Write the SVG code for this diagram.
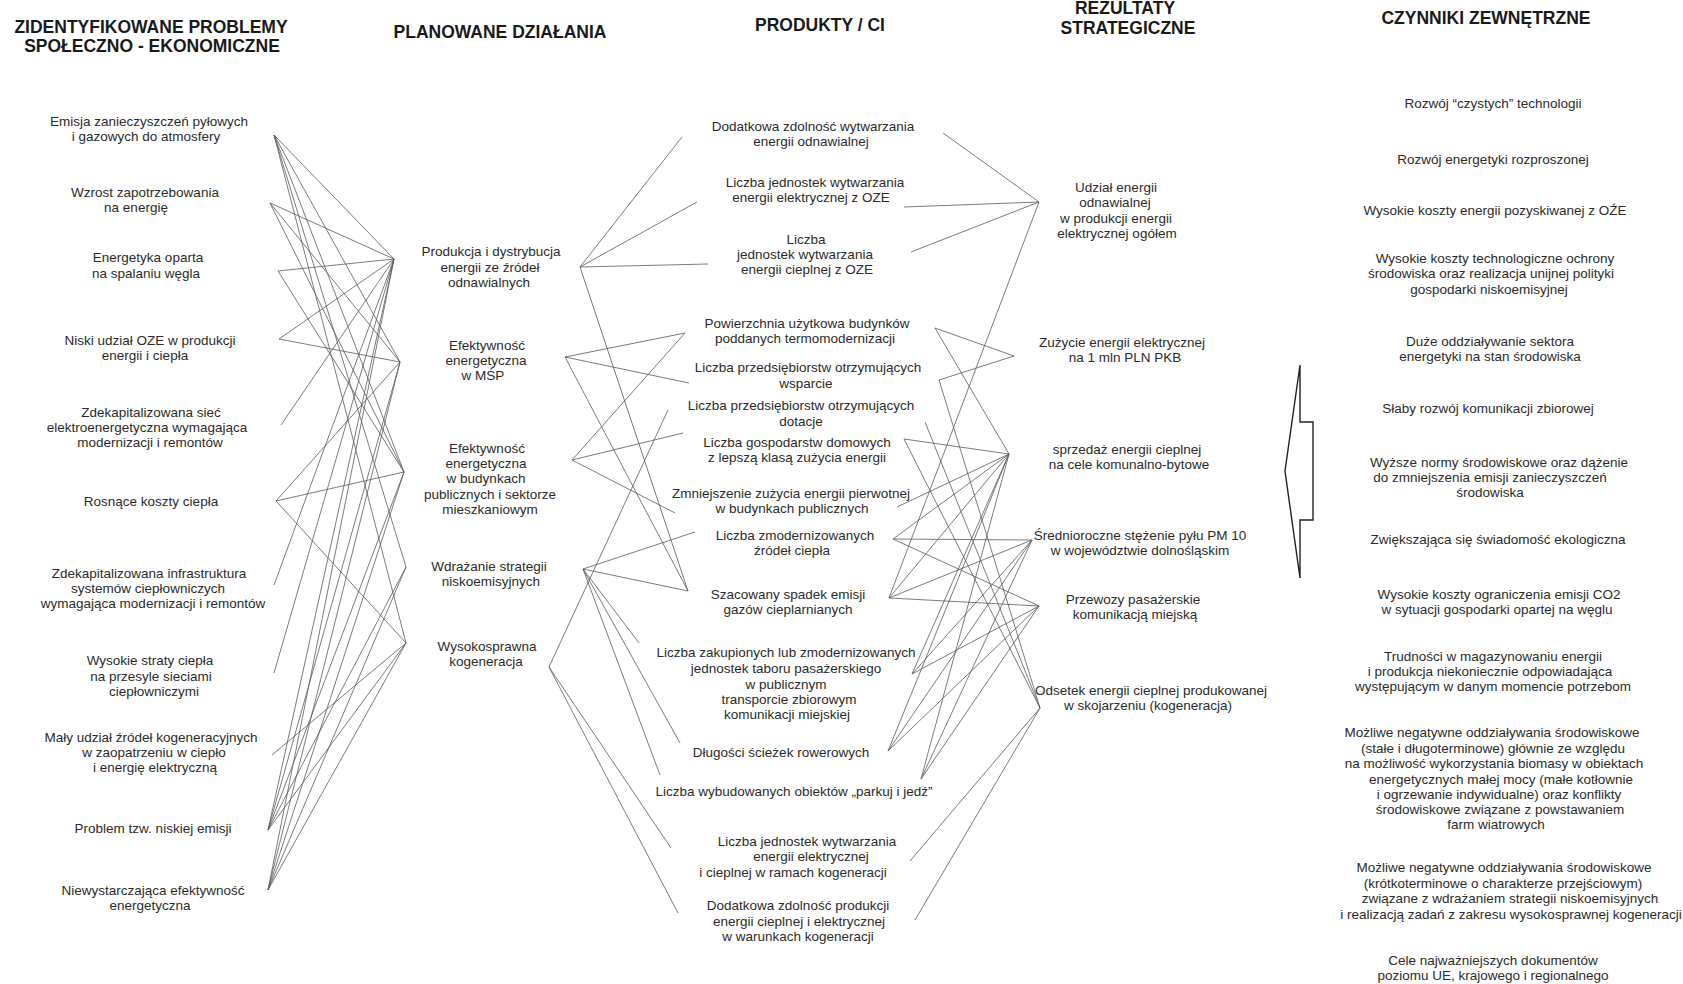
<svg xmlns="http://www.w3.org/2000/svg" width="1683" height="984" viewBox="0 0 1683 984">
  <style>
    text { font-family: "Liberation Sans", Arial, sans-serif; font-size: 13.5px; fill: #2b2b2b; text-anchor: middle; }
    text.h { font-weight: bold; font-size: 17.5px; fill: #1a1a1a; }
    #connectors line { stroke: #5a5a5a; stroke-width: 0.8; fill: none; }
    .bracket { fill: #fff; stroke: #222; stroke-width: 1.4; stroke-linejoin: miter; }
  </style>
  <rect width="1683" height="984" fill="#fff"/>

  <!-- column headers -->
  <g id="headers">
    <text class="h" x="151" y="33">ZIDENTYFIKOWANE PROBLEMY</text>
    <text class="h" x="152" y="52">SPOŁECZNO - EKONOMICZNE</text>
    <text class="h" x="500" y="38">PLANOWANE DZIAŁANIA</text>
    <text class="h" x="820" y="31">PRODUKTY / CI</text>
    <text class="h" x="1125" y="14">REZULTATY</text>
    <text class="h" x="1128" y="34">STRATEGICZNE</text>
    <text class="h" x="1486" y="24">CZYNNIKI ZEWNĘTRZNE</text>
  </g>

  <!-- connectors -->
  <g id="connectors">
    <!-- problems -> planned actions -->
    <line x1="274" y1="135" x2="394" y2="259"/>
    <line x1="274" y1="135" x2="400" y2="362"/>
    <line x1="274" y1="135" x2="404" y2="472"/>
    <line x1="274" y1="135" x2="406" y2="567"/>
    <line x1="274" y1="135" x2="406" y2="643"/>
    <line x1="270" y1="203" x2="394" y2="259"/>
    <line x1="270" y1="203" x2="400" y2="362"/>
    <line x1="270" y1="203" x2="404" y2="472"/>
    <line x1="278" y1="271" x2="394" y2="259"/>
    <line x1="278" y1="271" x2="404" y2="472"/>
    <line x1="279" y1="339" x2="394" y2="259"/>
    <line x1="279" y1="339" x2="400" y2="362"/>
    <line x1="281" y1="425" x2="394" y2="259"/>
    <line x1="276" y1="501" x2="400" y2="362"/>
    <line x1="276" y1="501" x2="404" y2="472"/>
    <line x1="276" y1="501" x2="406" y2="643"/>
    <line x1="274" y1="585" x2="394" y2="259"/>
    <line x1="274" y1="673" x2="394" y2="259"/>
    <line x1="272" y1="755" x2="406" y2="643"/>
    <line x1="268" y1="830" x2="394" y2="259"/>
    <line x1="268" y1="830" x2="400" y2="362"/>
    <line x1="268" y1="830" x2="404" y2="472"/>
    <line x1="268" y1="830" x2="406" y2="567"/>
    <line x1="268" y1="830" x2="406" y2="643"/>
    <line x1="268" y1="890" x2="394" y2="259"/>
    <line x1="268" y1="890" x2="400" y2="362"/>
    <line x1="268" y1="890" x2="404" y2="472"/>
    <line x1="268" y1="890" x2="406" y2="567"/>
    <line x1="268" y1="890" x2="406" y2="643"/>

    <!-- planned actions -> products -->
    <line x1="580" y1="267" x2="682" y2="137"/>
    <line x1="580" y1="267" x2="697" y2="202"/>
    <line x1="580" y1="267" x2="708" y2="264"/>
    <line x1="580" y1="267" x2="688" y2="591"/>
    <line x1="565" y1="357" x2="685" y2="333"/>
    <line x1="565" y1="357" x2="689" y2="383"/>
    <line x1="565" y1="357" x2="688" y2="591"/>
    <line x1="572" y1="460" x2="685" y2="333"/>
    <line x1="572" y1="460" x2="683" y2="433"/>
    <line x1="572" y1="460" x2="675" y2="513"/>
    <line x1="583" y1="569" x2="695" y2="532"/>
    <line x1="583" y1="569" x2="688" y2="591"/>
    <line x1="583" y1="569" x2="639" y2="643"/>
    <line x1="583" y1="569" x2="680" y2="743"/>
    <line x1="583" y1="569" x2="660" y2="775"/>
    <line x1="549" y1="667" x2="668" y2="410"/>
    <line x1="549" y1="667" x2="671" y2="848"/>
    <line x1="549" y1="667" x2="678" y2="913"/>

    <!-- products -> strategic results -->
    <line x1="943" y1="133" x2="1039" y2="202"/>
    <line x1="904" y1="207" x2="1039" y2="202"/>
    <line x1="911" y1="252" x2="1039" y2="202"/>
    <line x1="889" y1="598" x2="1039" y2="202"/>
    <line x1="935" y1="328" x2="1014" y2="356"/>
    <line x1="939" y1="380" x2="1014" y2="356"/>
    <line x1="935" y1="328" x2="1009" y2="454"/>
    <line x1="904" y1="439" x2="1009" y2="454"/>
    <line x1="897" y1="507" x2="1009" y2="454"/>
    <line x1="893" y1="539" x2="1009" y2="454"/>
    <line x1="889" y1="598" x2="1009" y2="454"/>
    <line x1="912" y1="674" x2="1009" y2="454"/>
    <line x1="888" y1="751" x2="1009" y2="454"/>
    <line x1="921" y1="779" x2="1009" y2="454"/>
    <line x1="893" y1="539" x2="1032" y2="540"/>
    <line x1="889" y1="598" x2="1032" y2="540"/>
    <line x1="912" y1="674" x2="1032" y2="540"/>
    <line x1="888" y1="751" x2="1032" y2="540"/>
    <line x1="921" y1="779" x2="1032" y2="540"/>
    <line x1="893" y1="539" x2="1039" y2="606"/>
    <line x1="889" y1="598" x2="1039" y2="606"/>
    <line x1="912" y1="674" x2="1039" y2="606"/>
    <line x1="888" y1="751" x2="1039" y2="606"/>
    <line x1="921" y1="779" x2="1039" y2="606"/>
    <line x1="939" y1="380" x2="1040" y2="708"/>
    <line x1="925" y1="422" x2="1040" y2="708"/>
    <line x1="904" y1="439" x2="1040" y2="708"/>
    <line x1="910" y1="861" x2="1040" y2="708"/>
    <line x1="915" y1="920" x2="1040" y2="708"/>
  </g>

  <!-- identified problems -->
  <g id="problem-emisja"><text x="149" y="126">Emisja zanieczyszczeń pyłowych</text><text x="146" y="141">i gazowych do atmosfery</text></g>
  <g id="problem-zapotrzebowanie"><text x="145" y="197">Wzrost zapotrzebowania</text><text x="136" y="212">na energię</text></g>
  <g id="problem-wegiel"><text x="148" y="262">Energetyka oparta</text><text x="146" y="278">na spalaniu węgla</text></g>
  <g id="problem-oze"><text x="150" y="345">Niski udział OZE w produkcji</text><text x="145" y="360">energii i ciepła</text></g>
  <g id="problem-siec"><text x="151" y="417">Zdekapitalizowana sieć</text><text x="147" y="432">elektroenergetyczna wymagająca</text><text x="150" y="447">modernizacji i remontów</text></g>
  <g id="problem-koszty"><text x="151" y="506">Rosnące koszty ciepła</text></g>
  <g id="problem-infrastruktura"><text x="149" y="578">Zdekapitalizowana infrastruktura</text><text x="148" y="593">systemów ciepłowniczych</text><text x="153" y="608">wymagająca modernizacji i remontów</text></g>
  <g id="problem-straty"><text x="150" y="665">Wysokie straty ciepła</text><text x="151" y="681">na przesyle sieciami</text><text x="154" y="696">ciepłowniczymi</text></g>
  <g id="problem-kogeneracja"><text x="151" y="742">Mały udział źródeł kogeneracyjnych</text><text x="154" y="757">w zaopatrzeniu w ciepło</text><text x="155" y="772">i energię elektryczną</text></g>
  <g id="problem-niska-emisja"><text x="153" y="833">Problem tzw. niskiej emisji</text></g>
  <g id="problem-efektywnosc"><text x="153" y="895">Niewystarczająca efektywność</text><text x="150" y="910">energetyczna</text></g>

  <!-- planned actions -->
  <g id="action-oze"><text x="491" y="256">Produkcja i dystrybucja</text><text x="490" y="272">energii ze źródeł</text><text x="489" y="287">odnawialnych</text></g>
  <g id="action-msp"><text x="487" y="350">Efektywność</text><text x="486" y="365">energetyczna</text><text x="483" y="380">w MŚP</text></g>
  <g id="action-budynki"><text x="487" y="453">Efektywność</text><text x="486" y="468">energetyczna</text><text x="486" y="483">w budynkach</text><text x="490" y="499">publicznych i sektorze</text><text x="490" y="514">mieszkaniowym</text></g>
  <g id="action-niskoemisyjne"><text x="489" y="571">Wdrażanie strategii</text><text x="491" y="586">niskoemisyjnych</text></g>
  <g id="action-kogeneracja"><text x="487" y="651">Wysokosprawna</text><text x="486" y="666">kogeneracja</text></g>

  <!-- products -->
  <g id="product-1"><text x="813" y="131">Dodatkowa zdolność wytwarzania</text><text x="811" y="146">energii odnawialnej</text></g>
  <g id="product-2"><text x="815" y="187">Liczba jednostek wytwarzania</text><text x="811" y="202">energii elektrycznej z OZE</text></g>
  <g id="product-3"><text x="806" y="244">Liczba</text><text x="805" y="259">jednostek wytwarzania</text><text x="807" y="274">energii cieplnej z OZE</text></g>
  <g id="product-4"><text x="807" y="328">Powierzchnia użytkowa budynków</text><text x="805" y="343">poddanych termomodernizacji</text></g>
  <g id="product-5"><text x="808" y="372">Liczba przedsiębiorstw otrzymujących</text><text x="806" y="388">wsparcie</text></g>
  <g id="product-6"><text x="801" y="410">Liczba przedsiębiorstw otrzymujących</text><text x="801" y="426">dotacje</text></g>
  <g id="product-7"><text x="797" y="447">Liczba gospodarstw domowych</text><text x="797" y="462">z lepszą klasą zużycia energii</text></g>
  <g id="product-8"><text x="791" y="498">Zmniejszenie zużycia energii pierwotnej</text><text x="792" y="513">w budynkach publicznych</text></g>
  <g id="product-9"><text x="795" y="540">Liczba zmodernizowanych</text><text x="792" y="555">źródeł ciepła</text></g>
  <g id="product-10"><text x="788" y="599">Szacowany spadek emisji</text><text x="788" y="614">gazów cieplarnianych</text></g>
  <g id="product-11"><text x="786" y="657">Liczba zakupionych lub zmodernizowanych</text><text x="786" y="673">jednostek taboru pasażerskiego</text><text x="786" y="689">w publicznym</text><text x="789" y="704">transporcie zbiorowym</text><text x="787" y="719">komunikacji miejskiej</text></g>
  <g id="product-12"><text x="781" y="757">Długości ścieżek rowerowych</text></g>
  <g id="product-13"><text x="794" y="796">Liczba wybudowanych obiektów „parkuj i jedź”</text></g>
  <g id="product-14"><text x="807" y="846">Liczba jednostek wytwarzania</text><text x="811" y="861">energii elektrycznej</text><text x="793" y="877">i cieplnej w ramach kogeneracji</text></g>
  <g id="product-15"><text x="798" y="910">Dodatkowa zdolność produkcji</text><text x="799" y="926">energii cieplnej i elektrycznej</text><text x="798" y="941">w warunkach kogeneracji</text></g>

  <!-- strategic results -->
  <g id="result-udzial"><text x="1116" y="192">Udział energii</text><text x="1115" y="207">odnawialnej</text><text x="1116" y="223">w produkcji energii</text><text x="1117" y="238">elektrycznej ogółem</text></g>
  <g id="result-zuzycie"><text x="1122" y="347">Zużycie energii elektrycznej</text><text x="1125" y="362">na 1 mln PLN PKB</text></g>
  <g id="result-sprzedaz"><text x="1127" y="454">sprzedaż energii cieplnej</text><text x="1129" y="469">na cele komunalno-bytowe</text></g>
  <g id="result-pm10"><text x="1140" y="540">Średnioroczne stężenie pyłu PM 10</text><text x="1140" y="555">w województwie dolnośląskim</text></g>
  <g id="result-przewozy"><text x="1133" y="604">Przewozy pasażerskie</text><text x="1135" y="619">komunikacją miejską</text></g>
  <g id="result-odsetek"><text x="1151" y="695">Odsetek energii cieplnej produkowanej</text><text x="1148" y="710">w skojarzeniu (kogeneracja)</text></g>

  <!-- bracket arrow pointing at the results -->
  <g id="external-arrow">
    <polygon class="bracket" points="1300,365 1300,422 1313,422 1313,520 1300,520 1300,578 1285,471"/>
  </g>

  <!-- external factors -->
  <g id="factor-1"><text x="1493" y="108">Rozwój “czystych” technologii</text></g>
  <g id="factor-2"><text x="1493" y="164">Rozwój energetyki rozproszonej</text></g>
  <g id="factor-3"><text x="1495" y="215">Wysokie koszty energii pozyskiwanej z OŹE</text></g>
  <g id="factor-4"><text x="1495" y="263">Wysokie koszty technologiczne ochrony</text><text x="1491" y="278">środowiska oraz realizacja unijnej polityki</text><text x="1489" y="294">gospodarki niskoemisyjnej</text></g>
  <g id="factor-5"><text x="1490" y="346">Duże oddziaływanie sektora</text><text x="1490" y="361">energetyki na stan środowiska</text></g>
  <g id="factor-6"><text x="1488" y="413">Słaby rozwój komunikacji zbiorowej</text></g>
  <g id="factor-7"><text x="1499" y="467">Wyższe normy środowiskowe oraz dążenie</text><text x="1490" y="482">do zmniejszenia emisji zanieczyszczeń</text><text x="1490" y="497">środowiska</text></g>
  <g id="factor-8"><text x="1498" y="544">Zwiększająca się świadomość ekologiczna</text></g>
  <g id="factor-9"><text x="1499" y="599">Wysokie koszty ograniczenia emisji CO2</text><text x="1497" y="614">w sytuacji gospodarki opartej na węglu</text></g>
  <g id="factor-10"><text x="1493" y="661">Trudności w magazynowaniu energii</text><text x="1490" y="676">i produkcja niekoniecznie odpowiadająca</text><text x="1493" y="691">występującym w danym momencie potrzebom</text></g>
  <g id="factor-11"><text x="1492" y="737">Możliwe negatywne oddziaływania środowiskowe</text><text x="1493" y="753">(stałe i długoterminowe) głównie ze względu</text><text x="1494" y="768">na możliwość wykorzystania biomasy w obiektach</text><text x="1501" y="784">energetycznych małej mocy (małe kotłownie</text><text x="1499" y="799">i ogrzewanie indywidualne) oraz konflikty</text><text x="1500" y="814">środowiskowe związane z powstawaniem</text><text x="1496" y="829">farm wiatrowych</text></g>
  <g id="factor-12"><text x="1504" y="872">Możliwe negatywne oddziaływania środowiskowe</text><text x="1503" y="888">(krótkoterminowe o charakterze przejściowym)</text><text x="1510" y="903">związane z wdrażaniem strategii niskoemisyjnych</text><text x="1511" y="919">i realizacją zadań z zakresu wysokosprawnej kogeneracji</text></g>
  <g id="factor-13"><text x="1493" y="965">Cele najważniejszych dokumentów</text><text x="1493" y="980">poziomu UE, krajowego i regionalnego</text></g>
</svg>
